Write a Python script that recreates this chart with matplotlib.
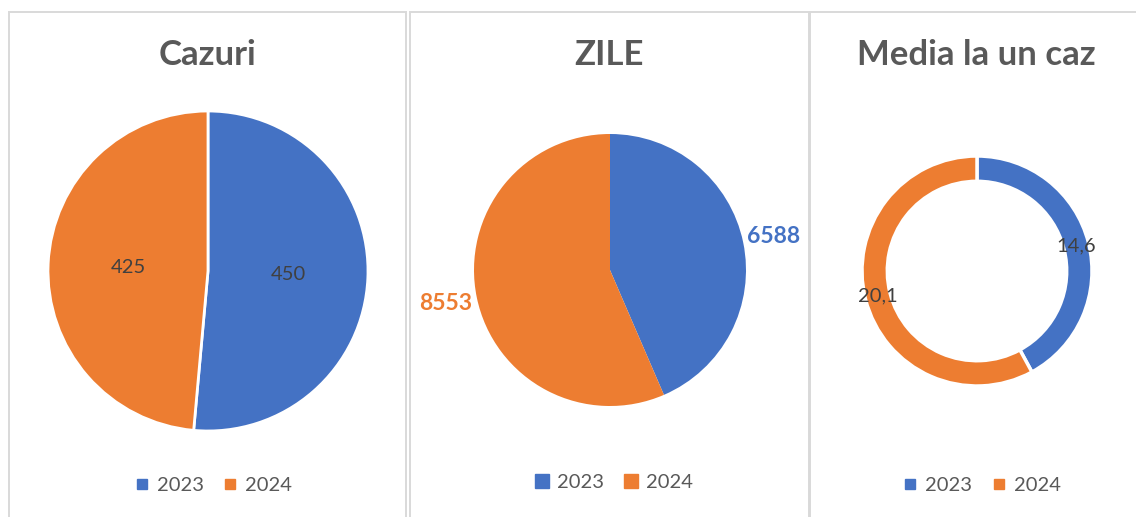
import matplotlib
matplotlib.use("Agg")
import matplotlib.pyplot as plt
from matplotlib.patches import Rectangle
from matplotlib.lines import Line2D
import numpy as np

# ---- data ----
years = ["2023", "2024"]
cazuri = [450, 425]
zile = [6588, 8553]
media = [14.6, 20.1]
titles = ["Cazuri", "ZILE", "Media la un caz"]

BLUE = "#4472C4"
ORANGE = "#ED7D31"
colors = [BLUE, ORANGE]
TITLE_C = "#595959"
LABEL_C = "#404040"
BORDER_C = "#D9D9D9"
FONT = "Lato"

W, H = 1136, 517
fig = plt.figure(figsize=(W / 100, H / 100), dpi=100)
ax = fig.add_axes([0, 0, 1, 1])
ax.set_xlim(0, W)
ax.set_ylim(0, H)
ax.set_aspect("equal")
ax.axis("off")


def Y(y):
    return H - y


# panel borders
for x0, x1 in [(9, 406), (410, 809), (810, 1160)]:
    ax.add_patch(Rectangle((x0, Y(540)), x1 - x0, 540 - 12, fill=False,
                           edgecolor=BORDER_C, linewidth=1.4))

# titles
for tx, t in zip([208, 609, 976], titles):
    ax.text(tx, Y(55), t, ha="center", va="center", fontsize=25,
            fontweight="bold", color=TITLE_C, family=FONT)


def label_pos(w, frac, cx, cy, r):
    ang = np.deg2rad((w.theta1 + w.theta2) / 2)
    return cx + frac * r * np.cos(ang), cy + frac * r * np.sin(ang)


# pie 1 - Cazuri
c1 = (208, Y(271)); r1 = 160
w1, _ = ax.pie(cazuri, colors=colors, startangle=90, counterclock=False,
               center=c1, radius=r1, frame=True,
               wedgeprops=dict(edgecolor="white", linewidth=2))
for w, v in zip(w1, cazuri):
    x, y = label_pos(w, 0.5, c1[0], c1[1], r1)
    ax.text(x, y, f"{v}", ha="center", va="center", fontsize=14.5,
            color=LABEL_C, family=FONT)

# pie 2 - ZILE
c2 = (610, Y(270)); r2 = 136
w2, _ = ax.pie(zile, colors=colors, startangle=90, counterclock=False,
               center=c2, radius=r2, frame=True)
for w, v, col in zip(w2, zile, colors):
    x, y = label_pos(w, 1.23, c2[0], c2[1], r2)
    ax.text(x, y, f"{v}", ha="center", va="center", fontsize=16.5,
            fontweight="bold", color=col, family=FONT)

# donut - Media
c3 = (977, Y(271)); r3 = 115
w3, _ = ax.pie(media, colors=colors, startangle=90, counterclock=False,
               center=c3, radius=r3, frame=True,
               wedgeprops=dict(width=r3 * 0.22, edgecolor="white", linewidth=2.5))
for w, v in zip(w3, media):
    x, y = label_pos(w, 0.89, c3[0], c3[1], r3)
    ax.text(x, y, f"{v:.1f}".replace(".", ","), ha="center", va="center",
            fontsize=14.5, color=LABEL_C, family=FONT)

ax.set_xlim(0, W)
ax.set_ylim(0, H)
ax.axis("off")

# legends
for (lx, ly, ms) in [(213.5, 485, 6.5), (614, 482, 10), (982, 485, 6.5)]:
    handles = [Line2D([], [], marker="s", linestyle="none", markersize=ms,
                      markerfacecolor=c, markeredgecolor=c) for c in colors]
    fig.legend(handles, years, loc="center", bbox_to_anchor=(lx / W, 1 - ly / H),
               ncol=2, frameon=False, handlelength=0.7, handletextpad=0.4,
               columnspacing=0.95, borderaxespad=0, borderpad=0,
               prop=dict(family=FONT, size=14.5), labelcolor=TITLE_C)

fig.savefig("out.png", dpi=100)
